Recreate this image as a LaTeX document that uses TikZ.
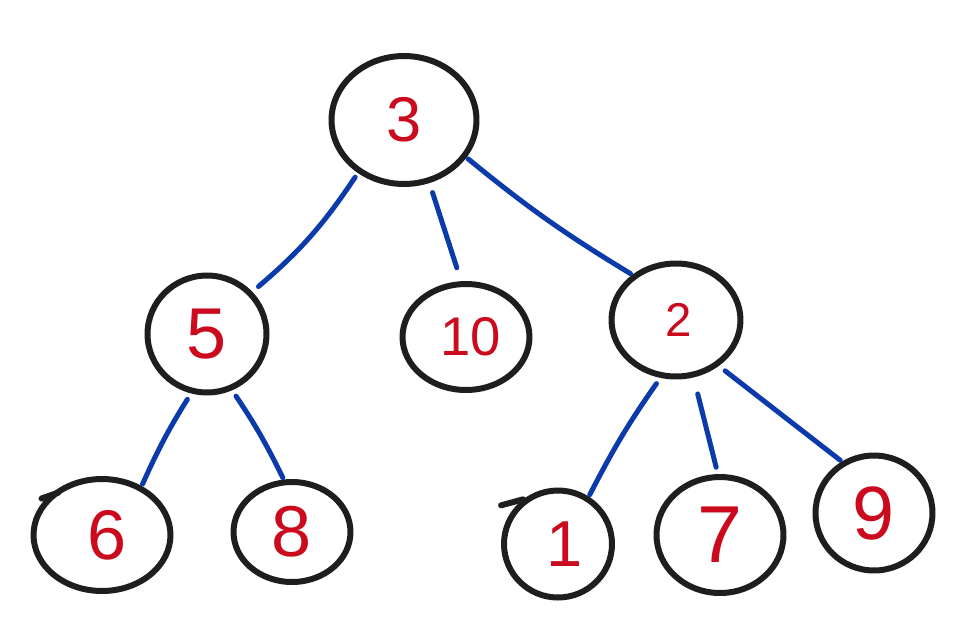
\documentclass[tikz,border=0pt]{standalone}
\usepackage{fontspec}
\setmainfont{Liberation Sans}
\usetikzlibrary{shapes.geometric}
\definecolor{ink}{HTML}{1E1E1E}
\definecolor{numred}{HTML}{CC0A1E}
\definecolor{edgeblue}{HTML}{0B3BAA}
\begin{document}
\begin{tikzpicture}[x=0.02cm,y=-0.02cm,
  circ/.style={ellipse, draw=ink, line width=0.12cm, inner sep=0pt, text=numred},
  tail/.style={draw=ink, line width=0.12cm, line cap=round},
  link/.style={draw=edgeblue, line width=0.1cm, line cap=round}]
\fill[white] (0,0) rectangle (964,633);
\useasboundingbox (0,0) rectangle (964,633);
% nodes
\node[circ, minimum width=2.90cm, minimum height=2.56cm, font=\fontsize{36}{40}\selectfont] (n3) at (404,120) {3};
\node[circ, minimum width=2.38cm, minimum height=2.34cm, font=\fontsize{41}{45}\selectfont] (n5) at (207,334) {5};
\node[circ, minimum width=2.54cm, minimum height=2.12cm, font=\fontsize{31}{34}\selectfont] (n10) at (466,337) {\hspace{0.2cm}10};
\node[circ, minimum width=2.58cm, minimum height=2.26cm, font=\fontsize{27}{30}\selectfont] (n2) at (676,320) {\hspace{0.1cm}2};
\node[circ, minimum width=2.74cm, minimum height=2.24cm, font=\fontsize{40}{44}\selectfont] (n6) at (102,535) {\hspace{0.2cm}6};
\node[circ, minimum width=2.34cm, minimum height=2.00cm, font=\fontsize{41}{45}\selectfont] (n8) at (292,532) {8};
\node[circ, minimum width=2.16cm, minimum height=2.14cm, font=\fontsize{37}{41}\selectfont] (n1) at (558,544) {\hspace{0.28cm}1};
\node[circ, minimum width=2.54cm, minimum height=2.32cm, font=\fontsize{46}{50}\selectfont] (n7) at (720,535) {7};
\node[circ, minimum width=2.34cm, minimum height=2.30cm, font=\fontsize{43}{47}\selectfont] (n9) at (874,513) {9};
% small pen overshoots on the rings
\draw[tail] ([shift={(2,3)}]n6.135) -- ++(-17,6);
\draw[tail] (n1.128) -- ++(-22,6);
% connectors
\draw[link, shorten <=0.10cm, shorten >=0.16cm] (n3.229) to[bend left=8] (n5.43);
\draw[link, shorten <=0.20cm, shorten >=0.28cm] (n3.292) -- (n10.95);
\draw[link, shorten <=0.04cm, shorten >=0.04cm] (n3.329) to[bend right=4] (n2.134);
\draw[link, shorten <=0.14cm, shorten >=0.04cm] (n5.255) to[bend right=4] (n6.51);
\draw[link, shorten <=0.14cm, shorten >=0.04cm] (n5.294) to[bend left=4] (n8.99);
\draw[link, shorten <=0.14cm, shorten >=0.04cm] (n2.255) to[bend right=4] (n1.57);
\draw[link, shorten <=0.34cm, shorten >=0.14cm] (n2.287) -- (n7.92);
\draw[link, shorten <=0.16cm, shorten >=0.04cm] (n2.313) -- (n9.122);
\end{tikzpicture}
\end{document}
